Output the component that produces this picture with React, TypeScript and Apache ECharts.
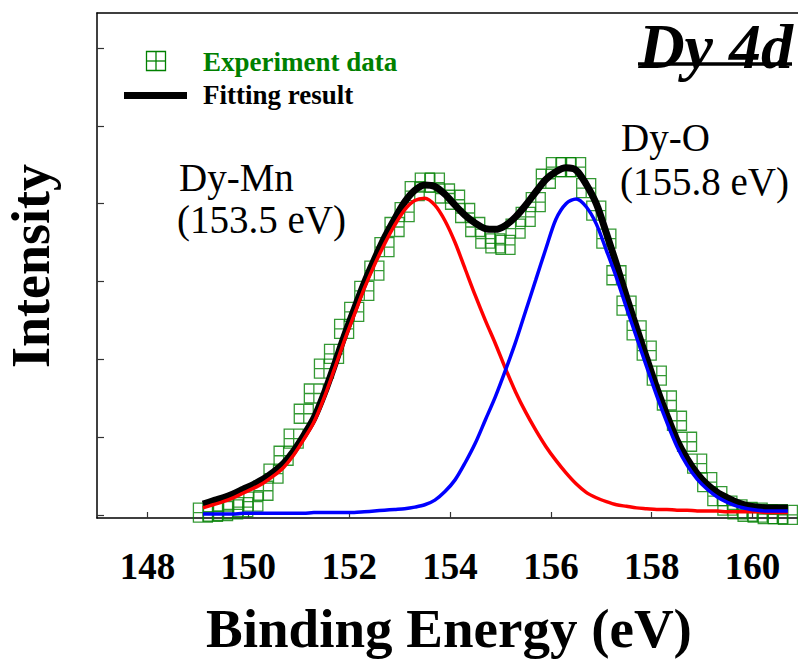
import React, { useEffect, useRef } from "react";
import * as echarts from "echarts";

const SERIF = "'Liberation Serif', 'Times New Roman', serif";

// Binding energy grid (eV)
const energy = [
  149.1, 149.3, 149.5, 149.7, 149.9, 150.1, 150.3, 150.5, 150.7, 150.9,
  151.1, 151.3, 151.5, 151.7, 151.9, 152.1, 152.3, 152.5, 152.7, 152.9,
  153.1, 153.3, 153.5, 153.7, 153.9, 154.1, 154.3, 154.5, 154.7, 154.9,
  155.1, 155.3, 155.5, 155.7, 155.9, 156.1, 156.3, 156.5, 156.7, 156.9,
  157.1, 157.3, 157.5, 157.7, 157.9, 158.1, 158.3, 158.5, 158.7, 158.9,
  159.1, 159.3, 159.5, 159.7, 159.9, 160.1, 160.3, 160.5, 160.7,
];

// Experiment data (arb. units)
const experiment = [
  0.03, 0.04, 0.05, 0.07, 0.10, 0.17, 0.31, 0.53, 0.76, 0.98,
  1.30, 1.56, 1.88, 2.07, 2.39, 2.61, 2.88, 3.14, 3.44, 3.70,
  3.89, 4.16, 4.27, 4.27, 4.13, 4.05, 3.88, 3.70, 3.55, 3.49,
  3.47, 3.68, 3.83, 4.02, 4.32, 4.47, 4.47, 4.47, 4.20, 3.91,
  3.55, 3.08, 2.69, 2.37, 2.11, 1.79, 1.47, 1.21, 0.94, 0.66,
  0.42, 0.24, 0.12, 0.07, 0.04, 0.03, 0.01, 0.01, 0.00,
];

// Fitting result (total)
const fitTotal = [
  0.14, 0.18, 0.22, 0.27, 0.33, 0.39, 0.46, 0.55, 0.66, 0.82,
  1.02, 1.24, 1.55, 1.91, 2.29, 2.64, 2.98, 3.28, 3.56, 3.80,
  4.02, 4.17, 4.24, 4.22, 4.12, 3.98, 3.85, 3.75, 3.68, 3.67,
  3.72, 3.83, 3.98, 4.15, 4.31, 4.41, 4.46, 4.43, 4.25, 4.00,
  3.62, 3.22, 2.80, 2.40, 2.01, 1.63, 1.28, 0.96, 0.72, 0.53,
  0.39, 0.29, 0.22, 0.16, 0.12, 0.10, 0.09, 0.09, 0.09,
];

// Dy-Mn component (153.5 eV)
const dyMn = [
  0.09, 0.13, 0.17, 0.22, 0.28, 0.34, 0.41, 0.50, 0.61, 0.77,
  0.97, 1.19, 1.50, 1.86, 2.23, 2.57, 2.91, 3.21, 3.48, 3.72,
  3.92, 4.04, 4.07, 3.98, 3.78, 3.50, 3.16, 2.82, 2.50, 2.20,
  1.88, 1.58, 1.32, 1.09, 0.88, 0.70, 0.54, 0.40, 0.29, 0.22,
  0.17, 0.13, 0.11, 0.09, 0.08, 0.07, 0.07, 0.06, 0.06, 0.05,
  0.05, 0.05, 0.04, 0.04, 0.04, 0.04, 0.03, 0.03, 0.03,
];

// Dy-O component (155.8 eV)
const dyO = [
  0.01, 0.01, 0.01, 0.01, 0.02, 0.02, 0.02, 0.02, 0.02, 0.02,
  0.02, 0.03, 0.03, 0.03, 0.03, 0.03, 0.04, 0.05, 0.06, 0.07,
  0.08, 0.10, 0.13, 0.19, 0.30, 0.45, 0.67, 0.92, 1.22, 1.52,
  1.86, 2.22, 2.62, 3.02, 3.42, 3.80, 4.00, 4.06, 3.96, 3.74,
  3.40, 3.05, 2.66, 2.28, 1.90, 1.53, 1.19, 0.88, 0.64, 0.46,
  0.33, 0.23, 0.16, 0.11, 0.08, 0.06, 0.05, 0.05, 0.05,
];

const xTicks = [148, 150, 152, 154, 156, 158, 160];
const yTicks = [0, 1, 2, 3, 4, 5, 6];

const GREEN = "#008000";
const MARKER = "path://M0,0H20V20H0ZM10,0V20M0,10H20";

const pairs = (ys: number[]) => energy.map((x, i) => [x, ys[i]]);

export default function App() {
  const ref = useRef<HTMLDivElement>(null);

  useEffect(() => {
    if (!ref.current) return;
    const chart = echarts.init(ref.current, undefined, { renderer: "svg" });

    const axisCommon = {
      type: "value" as const,
      min: 147,
      max: 160.9,
      splitLine: { show: false },
    };

    chart.setOption({
      animation: false,
      backgroundColor: "#ffffff",
      grid: { left: 97, right: 0, top: 13, bottom: 143, containLabel: false },
      xAxis: [
        {
          ...axisCommon,
          position: "bottom",
          axisLine: { show: true, onZero: false, lineStyle: { color: "#000", width: 1.5 } },
          axisTick: {
            show: true,
            inside: true,
            length: 6,
            customValues: xTicks,
            lineStyle: { color: "#333", width: 1.2 },
          },
          axisLabel: {
            show: true,
            customValues: xTicks,
            margin: 30,
            fontSize: 37,
            fontWeight: "bold",
            fontFamily: SERIF,
            color: "#000",
          },
        },
        {
          ...axisCommon,
          position: "top",
          axisLine: { show: true, onZero: false, lineStyle: { color: "#000", width: 1.5 } },
          axisTick: { show: false },
          axisLabel: { show: false },
        },
      ],
      yAxis: {
        type: "value",
        min: -0.04,
        max: 6.45,
        splitLine: { show: false },
        axisLine: { show: true, onZero: false, lineStyle: { color: "#000", width: 1.5 } },
        axisTick: {
          show: true,
          inside: true,
          length: 7,
          customValues: yTicks,
          lineStyle: { color: "#333", width: 1.2 },
        },
        axisLabel: { show: false },
      },
      series: [
        {
          name: "Experiment data",
          type: "scatter",
          data: pairs(experiment),
          symbol: MARKER,
          symbolSize: 19,
          itemStyle: { color: "rgba(0,0,0,0)", borderColor: GREEN, borderWidth: 1.3 },
          z: 2,
        },
        {
          name: "Fitting result",
          type: "line",
          data: pairs(fitTotal),
          showSymbol: false,
          smooth: 0.3,
          lineStyle: { color: "#000", width: 7 },
          z: 3,
        },
        {
          name: "Dy-Mn",
          type: "line",
          data: pairs(dyMn),
          showSymbol: false,
          smooth: 0.3,
          lineStyle: { color: "#ff0000", width: 3.5 },
          z: 4,
        },
        {
          name: "Dy-O",
          type: "line",
          data: pairs(dyO),
          showSymbol: false,
          smooth: 0.3,
          lineStyle: { color: "#0000ff", width: 3.5 },
          z: 5,
        },
      ],
      graphic: [
        // legend marker
        {
          type: "group",
          x: 156,
          y: 61,
          children: [
            {
              type: "rect",
              shape: { x: -9.5, y: -9.5, width: 19, height: 19 },
              style: { fill: "none", stroke: GREEN, lineWidth: 1.3 },
            },
            {
              type: "line",
              shape: { x1: 0, y1: -9.5, x2: 0, y2: 9.5 },
              style: { stroke: GREEN, lineWidth: 1.3 },
            },
            {
              type: "line",
              shape: { x1: -9.5, y1: 0, x2: 9.5, y2: 0 },
              style: { stroke: GREEN, lineWidth: 1.3 },
            },
          ],
        },
        {
          type: "text",
          x: 203,
          y: 62,
          style: {
            text: "Experiment data",
            fill: GREEN,
            fontSize: 27,
            fontWeight: "bold",
            fontFamily: SERIF,
            align: "left",
            verticalAlign: "middle",
          },
        },
        {
          type: "line",
          shape: { x1: 124, y1: 95.5, x2: 187, y2: 95.5 },
          style: { stroke: "#000", lineWidth: 7 },
        },
        {
          type: "text",
          x: 203,
          y: 95,
          style: {
            text: "Fitting result",
            fill: "#000",
            fontSize: 27,
            fontWeight: "bold",
            fontFamily: SERIF,
            align: "left",
            verticalAlign: "middle",
          },
        },
        // title
        {
          type: "text",
          x: 793,
          y: 46,
          style: {
            text: "Dy 4d",
            fill: "#000",
            fontSize: 64,
            fontWeight: "bold",
            fontStyle: "italic",
            fontFamily: SERIF,
            align: "right",
            verticalAlign: "middle",
          },
        },
        {
          type: "line",
          shape: { x1: 638, y1: 64, x2: 792, y2: 64 },
          style: { stroke: "#000", lineWidth: 3.5 },
        },
        // peak annotations
        {
          type: "text",
          x: 179,
          y: 177,
          style: {
            text: "Dy-Mn",
            fill: "#000",
            fontSize: 39,
            fontFamily: SERIF,
            align: "left",
            verticalAlign: "middle",
          },
        },
        {
          type: "text",
          x: 177,
          y: 219,
          style: {
            text: "(153.5 eV)",
            fill: "#000",
            fontSize: 39,
            fontFamily: SERIF,
            align: "left",
            verticalAlign: "middle",
          },
        },
        {
          type: "text",
          x: 621,
          y: 137,
          style: {
            text: "Dy-O",
            fill: "#000",
            fontSize: 39,
            fontFamily: SERIF,
            align: "left",
            verticalAlign: "middle",
          },
        },
        {
          type: "text",
          x: 620,
          y: 181,
          style: {
            text: "(155.8 eV)",
            fill: "#000",
            fontSize: 39,
            fontFamily: SERIF,
            align: "left",
            verticalAlign: "middle",
          },
        },
        // axis titles
        {
          type: "text",
          x: 31,
          y: 266,
          rotation: Math.PI / 2,
          style: {
            text: "Intensity",
            fill: "#000",
            fontSize: 54,
            fontWeight: "bold",
            fontFamily: SERIF,
            align: "center",
            verticalAlign: "middle",
          },
        },
        {
          type: "text",
          x: 449,
          y: 628,
          style: {
            text: "Binding Energy (eV)",
            fill: "#000",
            fontSize: 55,
            fontWeight: "bold",
            fontFamily: SERIF,
            align: "center",
            verticalAlign: "middle",
          },
        },
      ],
    });

    return () => chart.dispose();
  }, []);

  return (
    <div
      ref={ref}
      style={{ position: "fixed", left: 0, top: 0, width: 798, height: 661, background: "#fff" }}
    />
  );
}
